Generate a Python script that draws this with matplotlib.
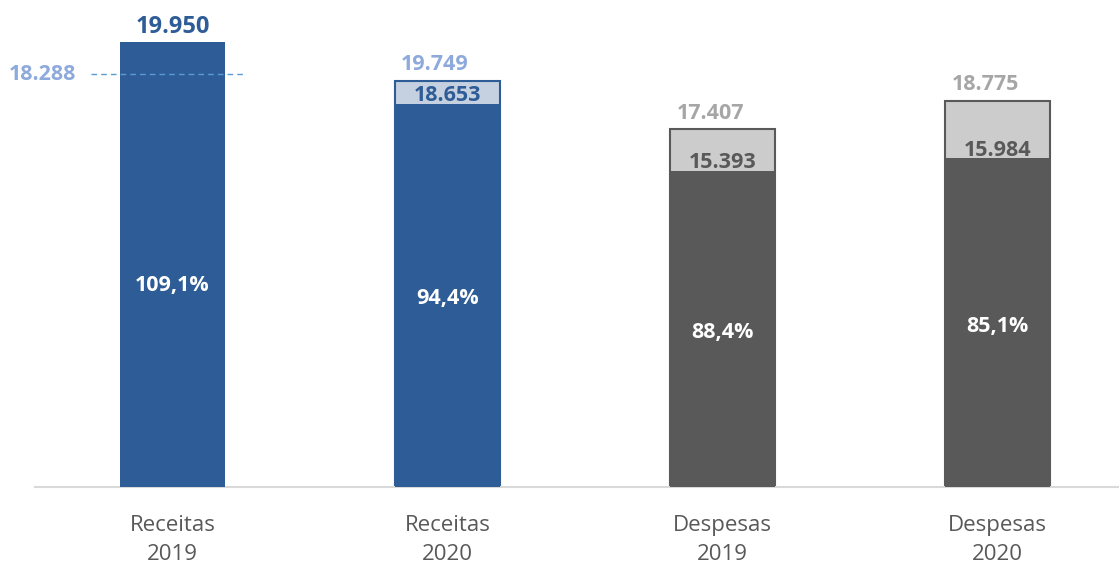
import matplotlib
matplotlib.use('Agg')
import matplotlib.pyplot as plt
from matplotlib import rcParams

rcParams['font.family'] = ['Open Sans', 'DejaVu Sans']

categorias = ['Receitas\n2019', 'Receitas\n2020', 'Despesas\n2019', 'Despesas\n2020']
realizado = [19950, 18653, 15393, 15984]
previsto = [None, 19749, 17407, 18775]
percentuais = ['109,1%', '94,4%', '88,4%', '85,1%']
meta_receita_2019 = 18288

# the 2019 revenue bar and its target line are drawn taller than the
# common scale in the original; heights below are read off that scale
altura_receitas_2019 = 21650
altura_meta_2019 = 20090

# colours
azul = '#2E5C96'
azul_claro = '#C5D0E0'
azul_texto_claro = '#8EA9DB'
cinza = '#595959'
cinza_claro = '#CCCCCC'
cinza_texto = '#A6A6A6'

fig = plt.figure(figsize=(11.19, 5.64), dpi=100)
ax = fig.add_axes([35 / 1119, 77 / 564, 1 - 35 / 1119, 487 / 564])

x = list(range(len(categorias)))
largura = 0.382
cores = [azul, azul, cinza, cinza]
cores_claras = [None, azul_claro, cinza_claro, cinza_claro]
cores_topo = [azul, azul_texto_claro, cinza_texto, cinza_texto]
cores_meio = [None, azul, cinza, cinza]

alturas = [altura_receitas_2019] + realizado[1:]


def fmt(v):
    return f'{v:,}'.replace(',', '.')


for i in x:
    if previsto[i] is not None:
        # budget (outline + light fill), then the executed part on top
        ax.bar(i, previsto[i], width=largura, color=cores_claras[i],
               edgecolor=cores[i], linewidth=1.5, zorder=2)
        ax.bar(i, realizado[i], width=largura, color=cores[i],
               edgecolor=cores[i], linewidth=0, zorder=3)
        ax.annotate(fmt(previsto[i]), (i - 0.045, previsto[i]),
                    xytext=(0, 4), textcoords='offset points', ha='center',
                    va='bottom', fontsize=15.5, fontweight='bold',
                    color=cores_topo[i])
        ax.annotate(fmt(realizado[i]), (i, realizado[i]),
                    xytext=(0, -2), textcoords='offset points', ha='center',
                    va='bottom', fontsize=15.5, fontweight='bold',
                    color=cores_meio[i], zorder=4)
    else:
        ax.bar(i, alturas[i], width=largura, color=cores[i], zorder=3)
        ax.annotate(fmt(realizado[i]), (i, alturas[i]),
                    xytext=(0, 2), textcoords='offset points', ha='center',
                    va='bottom', fontsize=17, fontweight='bold',
                    color=cores_topo[i])
    ax.annotate(percentuais[i], (i, realizado[i] / 2), xytext=(0, -2.5),
                textcoords='offset points', ha='center', va='center',
                fontsize=15.5, fontweight='bold', color='white', zorder=5)

# 2019 revenue target
ax.plot([-0.296, 0.264], [altura_meta_2019] * 2, ls=(0, (4, 3)),
        color='#5B9BD5', lw=1, zorder=4, clip_on=False)
ax.text(-0.472, altura_meta_2019, fmt(meta_receita_2019),
        ha='center', va='center', fontsize=15.5, fontweight='bold',
        color=azul_texto_claro)

ax.set_xlim(-0.5, 3.442)
ax.set_ylim(0, 23690)
ax.set_xticks(x)
ax.set_xticklabels(categorias, fontsize=16, color=cinza, linespacing=1.5)
ax.tick_params(axis='x', length=0, pad=20)
ax.set_yticks([])
for s in ['left', 'right', 'top']:
    ax.spines[s].set_visible(False)
ax.spines['bottom'].set_color('#D9D9D9')
ax.spines['bottom'].set_linewidth(1.5)

plt.savefig('out.png', dpi=100)
